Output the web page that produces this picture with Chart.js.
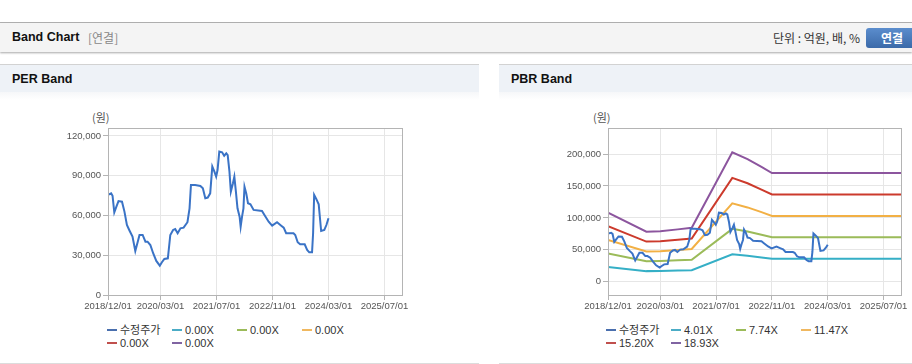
<!DOCTYPE html>
<html><head><meta charset="utf-8">
<script src="https://cdn.jsdelivr.net/npm/chart.js@4.4.1/dist/chart.umd.min.js"></script>
<style>
html,body{margin:0;padding:0;width:912px;height:364px;overflow:hidden;background:#fff;font-family:"Liberation Sans","Noto Sans CJK KR",sans-serif;position:relative;}
.abs{position:absolute;}
#topline{left:0;top:22px;width:912px;height:1px;background:#b3b3b3;}
#hdr{left:0;top:23px;width:912px;height:29px;background:#f4f4f4;box-shadow:0 1px 2px rgba(0,0,0,0.35);}
#hdrTitle{left:12px;top:0;line-height:29px;font-size:12.5px;font-weight:bold;color:#111;}
#hdrSub{left:88px;top:0;line-height:29px;font-size:12px;color:#888;font-family:"Noto Sans CJK KR",sans-serif;}
#unit{right:52px;top:0;line-height:29px;font-size:12px;color:#333;font-family:"Noto Sans CJK KR",sans-serif;}
#btn{left:866px;top:5px;width:52px;height:20px;border-radius:3px;background:linear-gradient(#5b8dcd,#3b6aa9);color:#fff;font-weight:bold;font-size:12px;line-height:20px;text-align:center;font-family:"Noto Sans CJK KR",sans-serif;}
.panel{top:64px;height:298px;border-top:1px solid #d2d2d2;border-bottom:1px solid #dcdcdc;}
.sub{height:27px;background:#eef2f7;font-size:12.5px;font-weight:bold;color:#111;line-height:28px;padding-left:12px;}
.fade{height:8px;background:linear-gradient(#f6f7f9,#fff);}
.unitlbl{top:109px;font-size:11px;color:#555;font-family:"Noto Sans CJK KR",sans-serif;}
canvas{position:absolute;}
.legend{top:324px;display:grid;grid-template-columns:65px 65px 65px 65px;grid-auto-rows:13.4px;font-size:11px;color:#333;}
.legend div{white-space:nowrap;line-height:13px;}
.legend span.sw{display:inline-block;width:10px;height:2px;vertical-align:middle;margin-right:3px;position:relative;top:-1px;}
</style></head>
<body>
<div id="topline" class="abs"></div>
<div id="hdr" class="abs">
  <div id="hdrTitle" class="abs">Band Chart</div>
  <div id="hdrSub" class="abs">[연결]</div>
  <div id="unit" class="abs">단위 : 억원, 배, %</div>
  <div id="btn" class="abs" style="left:866px;">연결</div>
</div>
<div class="abs panel" style="left:0;width:479px;"><div class="sub">PER Band</div><div class="fade"></div></div>
<div class="abs panel" style="left:499px;width:413px;"><div class="sub">PBR Band</div><div class="fade"></div></div>
<div class="abs unitlbl" style="left:92px;">(원)</div>
<div class="abs unitlbl" style="left:593px;">(원)</div>
<canvas id="per" width="479" height="220" style="left:0;top:100px;"></canvas>
<canvas id="pbr" width="413" height="220" style="left:499px;top:100px;"></canvas>
<div id="legPer" class="abs legend" style="left:107px;"></div>
<div id="legPbr" class="abs legend" style="left:606px;"></div>
<script>
// ---- data ----
const xTickLabels = ['2018/12/01','2020/03/01','2021/07/01','2022/11/01','2024/03/01','2025/07/01'];
const xEnd = '2025/12/01';
const perYTicks = [0, 30000, 60000, 90000, 120000];
const pbrYTicks = [0, 50000, 100000, 150000, 200000];

const priceDates = ['2018/12/01','2018/12/28','2019/01/10','2019/01/25','2019/02/13','2019/03/01','2019/04/01','2019/04/22','2019/05/13','2019/06/07',
 '2019/07/01','2019/07/25','2019/08/16','2019/09/01','2019/09/28','2019/10/22','2019/11/10','2019/12/04','2019/12/28','2020/01/25',
 '2020/02/25','2020/03/13','2020/04/04','2020/05/04','2020/05/25','2020/06/19','2020/07/07','2020/07/28','2020/08/22','2020/09/19',
 '2020/10/22','2020/11/10','2020/11/22','2020/12/28','2021/02/13','2021/03/04','2021/03/25','2021/04/16','2021/05/07','2021/05/25',
 '2021/06/13','2021/06/28','2021/07/10','2021/07/25','2021/08/19','2021/09/07','2021/09/25','2021/10/07','2021/10/22','2021/11/04',
 '2021/11/22','2021/12/04','2021/12/16','2022/01/01','2022/01/19','2022/01/28','2022/02/10','2022/02/22','2022/03/01','2022/03/16',
 '2022/04/01','2022/04/22','2022/05/19','2022/08/01','2022/08/22','2022/09/28','2022/10/28','2022/12/10','2023/01/16','2023/02/07',
 '2023/02/28','2023/05/01','2023/05/16','2023/06/07','2023/06/28','2023/08/07','2023/08/28','2023/09/16','2023/10/10','2023/10/19',
 '2023/10/28','2023/11/16','2023/12/07','2023/12/28','2024/01/25','2024/02/13','2024/03/01'];
const priceValues = [75500,76700,74900,62400,66700,70900,70400,62900,52800,48300,
 44000,33200,40200,45300,45300,40200,40200,37700,31500,25700,
 22100,24700,27200,27700,45300,49100,49800,46600,50300,50800,
 54900,65400,83000,83000,82300,80500,73000,73500,76700,96900,
 93100,89300,94300,108200,107700,105100,106900,105600,93100,78000,
 84300,89300,79200,65400,59100,51500,59100,65400,81700,76700,
 69200,68400,64200,63400,60400,55300,52300,54900,52300,50800,
 46600,46600,45300,39800,38200,38200,34000,32200,32200,46600,
 75500,72500,68400,48300,49100,52800,57900];

const bandDates = ['2018/12/01','2019/11/01','2020/03/01','2020/08/01','2020/12/01','2021/11/20','2022/04/01','2022/08/01','2022/11/01','2025/12/01'];
const pbr401  = [22900, 16600, 16800, 17400, 17900, 42900, 40700, 38100, 36100, 36100];
const pbr774  = [44300, 32000, 32400, 33500, 34500, 82800, 78600, 73500, 69600, 69600];
const pbr1147 = [65600, 47500, 47900, 49700, 51200, 122700, 116400, 109000, 103100, 103100];
const pbr1520 = [86900, 62900, 63500, 65800, 67800, 162600, 154300, 144400, 136600, 136600];
const pbr1893 = [108300, 78400, 79100, 82000, 84400, 202600, 192100, 179800, 170200, 170200];

const perLabels = ['수정주가','0.00X','0.00X','0.00X','0.00X','0.00X'];
const pbrLabels = ['수정주가','4.01X','7.74X','11.47X','15.20X','18.93X'];
const colors = ['#3a73c6','#35afc6','#9bbb59','#f2b044','#cc3a2c','#8c559e'];
const legendColors = ['#4a6fae','#4bacc6','#9bbb59','#f0b860','#c0504d','#8064a2'];

// ---- helpers ----
const toMonth = d => { const [y,m,dd] = d.split('/').map(Number); return (y-2018)*12 + (m-12) + (dd-1)/30; };
const xTickMonths = xTickLabels.map(toMonth);
const pts = (dates, vals) => dates.map((d,i)=>({x:toMonth(d), y:vals[i]}));
const tickFont = {family:'"Liberation Sans",sans-serif', size:9.5};

const borderBox = {
  id:'borderBox',
  afterDraw(chart){
    const a = chart.chartArea, c = chart.ctx;
    c.save(); c.strokeStyle = '#b4b4b4'; c.lineWidth = 1;
    const l = Math.round(a.left), t = Math.round(a.top), r = Math.round(a.right), b = Math.round(a.bottom);
    c.strokeRect(l+0.5, t+0.5, r-l, b-t);
    c.restore();
  }
};

function makeChart(id, datasets, yMin, yMax, yTicks, yWidth, padRight){
  return new Chart(document.getElementById(id), {
    type:'line',
    data:{datasets},
    options:{
      responsive:false, animation:false, devicePixelRatio:1,
      layout:{padding:{top:28, right:padRight, left:0, bottom:0}},
      plugins:{legend:{display:false}, tooltip:{enabled:false}},
      elements:{point:{radius:0}, line:{borderWidth:2, tension:0}},
      scales:{
        x:{type:'linear', min:0, max:toMonth(xEnd),
           afterBuildTicks:s=>{ s.ticks = xTickMonths.map(v=>({value:v})); },
           afterFit:s=>{ s.height = 25; },
           ticks:{autoSkip:false, maxRotation:0, minRotation:0, padding:1, color:'#555', font:tickFont,
                  callback:(v,i)=>xTickLabels[i]},
           grid:{color:'#e6e6e6', tickColor:'#b4b4b4', tickLength:5},
           border:{color:'#b4b4b4'}},
        y:{type:'linear', min:yMin, max:yMax,
           afterBuildTicks:s=>{ s.ticks = yTicks.map(v=>({value:v})); },
           afterFit:s=>{ s.width = yWidth; },
           ticks:{padding:2, color:'#555', font:tickFont, callback:v=>v.toLocaleString('en-US')},
           grid:{color:'#e6e6e6', tickColor:'#b4b4b4', tickLength:5},
           border:{color:'#b4b4b4'}}
      }
    },
    plugins:[borderBox]
  });
}

const perChart = makeChart('per', [
  {label:perLabels[0], data:pts(priceDates, priceValues), borderColor:colors[0]}
], 0, 126000, perYTicks, 108, 77);

const pbrChart = makeChart('pbr', [
  {label:pbrLabels[0], data:pts(priceDates, priceValues), borderColor:colors[0]},
  {label:pbrLabels[1], data:pts(bandDates, pbr401),  borderColor:colors[1]},
  {label:pbrLabels[2], data:pts(bandDates, pbr774),  borderColor:colors[2]},
  {label:pbrLabels[3], data:pts(bandDates, pbr1147), borderColor:colors[3]},
  {label:pbrLabels[4], data:pts(bandDates, pbr1520), borderColor:colors[4]},
  {label:pbrLabels[5], data:pts(bandDates, pbr1893), borderColor:colors[5]}
], -20800, 240800, pbrYTicks, 109, 11);

function buildLegend(elId, labels){
  const el = document.getElementById(elId);
  labels.forEach((lab,i)=>{
    const d = document.createElement('div');
    const sw = document.createElement('span'); sw.className='sw'; sw.style.background = legendColors[i];
    d.appendChild(sw); d.appendChild(document.createTextNode(lab));
    el.appendChild(d);
  });
}
buildLegend('legPer', perLabels);
buildLegend('legPbr', pbrLabels);
</script>
</body></html>
